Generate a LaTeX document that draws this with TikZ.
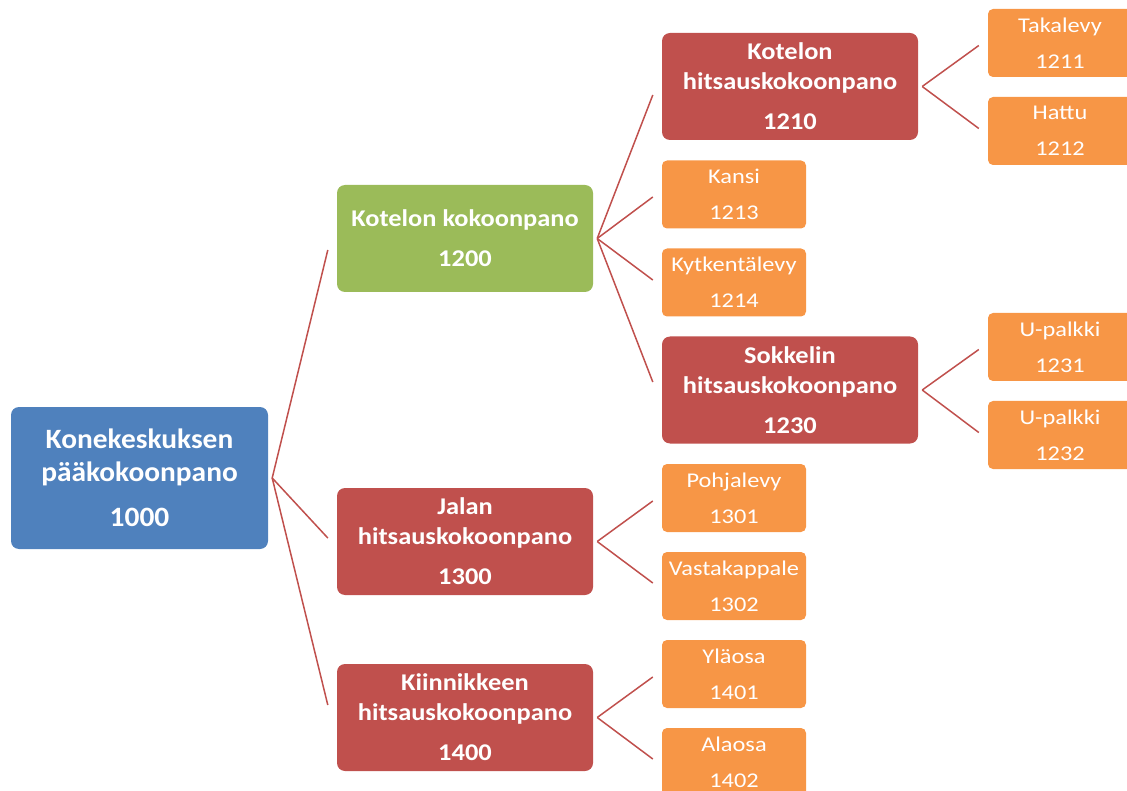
\documentclass[tikz,border=0pt]{standalone}
\usepackage{fontspec}
\setmainfont{Carlito}
\newfontfamily\rootf{Carlito}[FakeStretch=1.05]
\newfontfamily\bigf{Carlito}[FakeStretch=1.10]
\newfontfamily\smallf{Carlito}[FakeStretch=1.16]
\usetikzlibrary{calc}
\definecolor{cblue}{HTML}{4F81BD}
\definecolor{cgreen}{HTML}{9BBB59}
\definecolor{cred}{HTML}{C0504D}
\definecolor{corange}{HTML}{F79646}
\tikzset{
  box/.style={rounded corners=8pt, inner sep=0pt, align=center, text=white},
  rootbox/.style={box, fill=cblue, minimum width=257pt, minimum height=142pt,
    font=\rootf\fontsize{28}{33}\selectfont\bfseries},
  bigbox/.style={box, minimum width=256pt, minimum height=107pt,
    font=\bigf\fontsize{24}{30}\selectfont\bfseries},
  redbox/.style={bigbox, fill=cred},
  greenbox/.style={bigbox, fill=cgreen},
  smallbox/.style={box, rounded corners=5pt, fill=corange, minimum width=144pt, minimum height=68pt,
    font=\smallf\fontsize{21}{26}\selectfont},
  link/.style={draw=cred, line width=1.5pt}
}
\begin{document}
\begin{tikzpicture}[x=1pt,y=-1pt]
\useasboundingbox (0,0) rectangle (1127,791);
% nodes
\node[rootbox] (root) at (139.5,478) {Konekeskuksen\\pääkokoonpano\\[12pt]1000};
\node[greenbox] (k1200) at (465,238.5) {Kotelon kokoonpano\\[10pt]1200};
\node[redbox] (k1300) at (465,541.5) {Jalan\\hitsauskokoonpano\\[10pt]1300};
\node[redbox] (k1400) at (465,717.5) {Kiinnikkeen\\hitsauskokoonpano\\[10pt]1400};
\node[redbox] (k1210) at (790,86.5) {Kotelon\\hitsauskokoonpano\\[10pt]1210};
\node[redbox] (k1230) at (790,390) {Sokkelin\\hitsauskokoonpano\\[10pt]1230};
\node[smallbox] (k1213) at (734,194.5) {Kansi\\[10pt]1213};
\node[smallbox] (k1214) at (734,282.5) {Kytkentälevy\\[10pt]1214};
\node[smallbox] (k1301) at (734,498) {Pohjalevy\\[10pt]1301};
\node[smallbox] (k1302) at (734,586) {Vastakappale\\[10pt]1302};
\node[smallbox] (k1401) at (734,674) {Yläosa\\[10pt]1401};
\node[smallbox] (k1402) at (734,762) {Alaosa\\[10pt]1402};
\node[smallbox] (k1211) at (1060,43) {Takalevy\\[10pt]1211};
\node[smallbox] (k1212) at (1060,131) {Hattu\\[10pt]1212};
\node[smallbox] (k1231) at (1060,347) {U-palkki\\[10pt]1231};
\node[smallbox] (k1232) at (1060,435) {U-palkki\\[10pt]1232};
% junctions
\coordinate (jroot) at ($(root.east)+(4,0)$);
\coordinate (j1200) at ($(k1200.east)+(4,0)$);
\coordinate (j1300) at ($(k1300.east)+(4,0)$);
\coordinate (j1400) at ($(k1400.east)+(4,0)$);
\coordinate (j1210) at ($(k1210.east)+(4,0)$);
\coordinate (j1230) at ($(k1230.east)+(4,0)$);
% connectors
\draw[link] (jroot) -- ($(k1200.west)+(-9,11.5)$);
\draw[link] (jroot) -- ($(k1300.west)+(-9,-3.5)$);
\draw[link] (jroot) -- ($(k1400.west)+(-9,-12.5)$);
\draw[link] (j1200) -- ($(k1210.west)+(-9,8.5)$);
\draw[link] (j1200) -- ($(k1213.west)+(-9,2.5)$);
\draw[link] (j1200) -- ($(k1214.west)+(-9,-2.5)$);
\draw[link] (j1200) -- ($(k1230.west)+(-9,-8)$);
\draw[link] (j1300) -- ($(k1301.west)+(-9,3)$);
\draw[link] (j1300) -- ($(k1302.west)+(-9,-3)$);
\draw[link] (j1400) -- ($(k1401.west)+(-9,3)$);
\draw[link] (j1400) -- ($(k1402.west)+(-9,-3)$);
\draw[link] (j1210) -- ($(k1211.west)+(-9,2.5)$);
\draw[link] (j1210) -- ($(k1212.west)+(-9,-2.5)$);
\draw[link] (j1230) -- ($(k1231.west)+(-9,2.5)$);
\draw[link] (j1230) -- ($(k1232.west)+(-9,-2.5)$);
\end{tikzpicture}
\end{document}
